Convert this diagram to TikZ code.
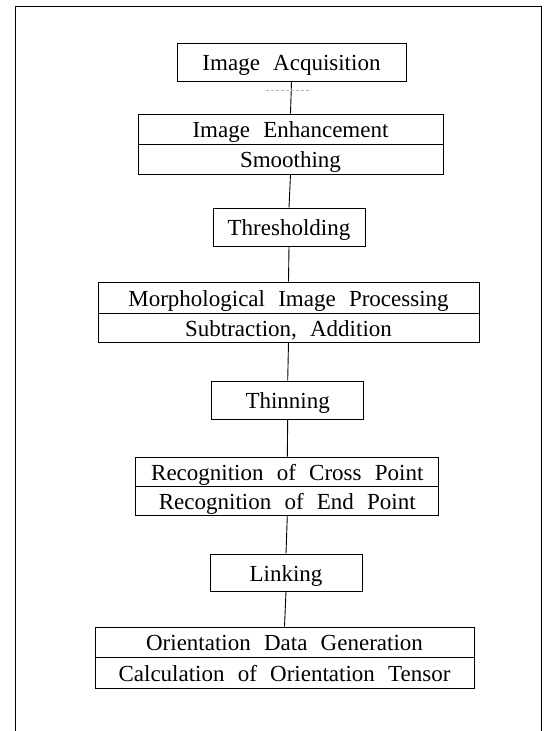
\documentclass[tikz,border=0pt]{standalone}
\usepackage{fontspec}
\setmainfont{Liberation Serif}[WordSpace={2.3}]
\begin{document}
\begin{tikzpicture}[x=1pt,y=-1pt,
  box/.style={draw,line width=0.9pt,inner sep=0pt,text height=17pt,text depth=0pt,
    font=\fontsize{23}{28}\selectfont},
  conn/.style={line width=0.9pt},
  frame/.style={line width=1pt}]
\useasboundingbox (0,0) rectangle (548,731);
% outer frame (open at bottom)
\coordinate (fbl) at (15,731);
\coordinate (ftl) at (15,6);
\coordinate (ftr) at (541,6);
\coordinate (fbr) at (541,731);
\draw[frame] (fbl) -- (ftl) -- (ftr) -- (fbr);
% boxes
\node[box,minimum width=229pt,minimum height=38pt] (acq) at (291.5,62) {Image Acquisition};
\node[box,minimum width=305pt,minimum height=30pt] (enh1) at (290.5,129) {Image Enhancement};
\node[box,minimum width=305pt,minimum height=30pt] (enh2) at (290.5,159) {Smoothing};
\node[box,minimum width=152pt,minimum height=38pt] (thr) at (289,227) {Thresholding};
\node[box,minimum width=381pt,minimum height=31pt] (mor1) at (288.5,297.5) {Morphological Image Processing};
\node[box,minimum width=381pt,minimum height=29pt] (mor2) at (288.5,327.5) {Subtraction, Addition};
\node[box,minimum width=152pt,minimum height=38pt] (thn) at (287.7,400) {Thinning};
\node[box,minimum width=303pt,minimum height=29pt] (rec1) at (287.3,471.5) {Recognition of Cross Point};
\node[box,minimum width=303pt,minimum height=29pt] (rec2) at (287.3,500.5) {Recognition of End Point};
\node[box,minimum width=152pt,minimum height=37pt] (lnk) at (286,572.5) {Linking};
\node[box,minimum width=379pt,minimum height=30pt] (ori1) at (284.5,642) {Orientation Data Generation};
\node[box,minimum width=379pt,minimum height=31pt] (ori2) at (284.5,672.5) {Calculation of Orientation Tensor};
% connectors
\draw[conn] (acq.south) -- (enh1.north);
\draw[conn] (enh2.south) -- (thr.north);
\draw[conn] (thr.south) -- (mor1.north);
\draw[conn] (mor2.south) -- (thn.north);
\draw[conn] (thn.south) -- (rec1.north);
\draw[conn] (rec2.south) -- (lnk.north);
\draw[conn] (lnk.south) -- (ori1.north);
% faint stray dash below the first box
\coordinate (sd1) at (266,90);
\coordinate (sd2) at (311,90);
\draw[gray!60,line width=0.4pt,dash pattern=on 3pt off 2pt] (sd1) -- (sd2);
\end{tikzpicture}
\end{document}
